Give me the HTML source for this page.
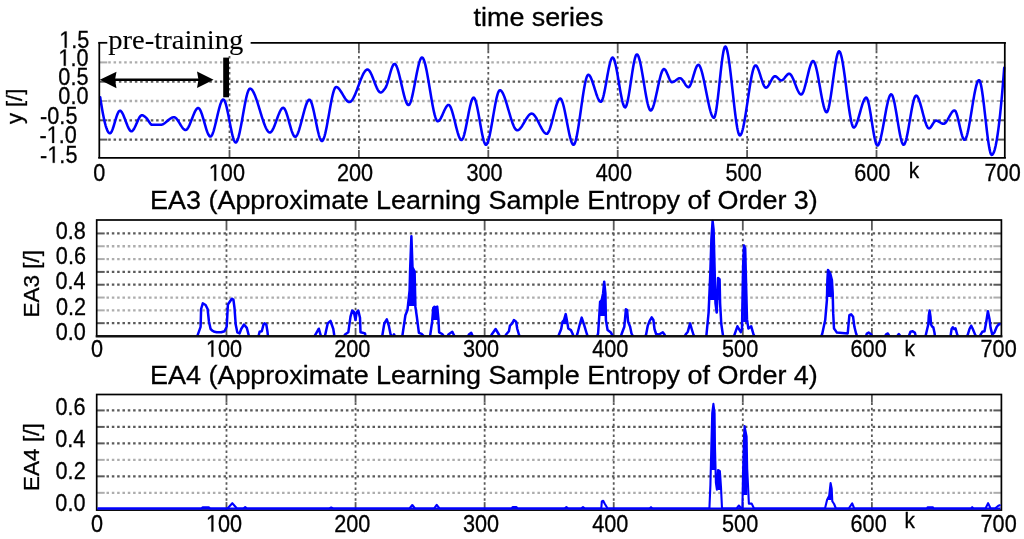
<!DOCTYPE html>
<html><head><meta charset="utf-8"><title>EA plots</title>
<style>html,body{margin:0;padding:0;background:#fff;}body{width:1024px;height:539px;overflow:hidden;}svg{display:block;filter:blur(0.45px);}
text{fill:#000;stroke:#000;stroke-width:0.3px;}</style></head><body>
<svg width="1024" height="539" viewBox="0 0 1024 539">
<rect width="1024" height="539" fill="#fff"/>
<line x1="107.3" y1="62.4" x2="996.8" y2="62.4" stroke="#adadad" stroke-width="2.3" stroke-dasharray="2.5 2.82" stroke-dashoffset="4.37"/>
<line x1="99.3" y1="62.4" x2="107.3" y2="62.4" stroke="#adadad" stroke-width="2"/>
<line x1="996.8" y1="62.4" x2="1004.8" y2="62.4" stroke="#adadad" stroke-width="2"/>
<line x1="107.3" y1="81.7" x2="996.8" y2="81.7" stroke="#5a5a5a" stroke-width="2.3" stroke-dasharray="2.5 2.82" stroke-dashoffset="4.37"/>
<line x1="99.3" y1="81.7" x2="107.3" y2="81.7" stroke="#5a5a5a" stroke-width="2"/>
<line x1="996.8" y1="81.7" x2="1004.8" y2="81.7" stroke="#5a5a5a" stroke-width="2"/>
<line x1="107.3" y1="101" x2="996.8" y2="101" stroke="#adadad" stroke-width="2.3" stroke-dasharray="2.5 2.82" stroke-dashoffset="4.37"/>
<line x1="99.3" y1="101" x2="107.3" y2="101" stroke="#adadad" stroke-width="2"/>
<line x1="996.8" y1="101" x2="1004.8" y2="101" stroke="#adadad" stroke-width="2"/>
<line x1="107.3" y1="120.3" x2="996.8" y2="120.3" stroke="#5a5a5a" stroke-width="2.3" stroke-dasharray="2.5 2.82" stroke-dashoffset="4.37"/>
<line x1="99.3" y1="120.3" x2="107.3" y2="120.3" stroke="#5a5a5a" stroke-width="2"/>
<line x1="996.8" y1="120.3" x2="1004.8" y2="120.3" stroke="#5a5a5a" stroke-width="2"/>
<line x1="107.3" y1="139.6" x2="996.8" y2="139.6" stroke="#5a5a5a" stroke-width="2.3" stroke-dasharray="2.5 2.82" stroke-dashoffset="4.37"/>
<line x1="99.3" y1="139.6" x2="107.3" y2="139.6" stroke="#5a5a5a" stroke-width="2"/>
<line x1="996.8" y1="139.6" x2="1004.8" y2="139.6" stroke="#5a5a5a" stroke-width="2"/>
<line x1="229.5" y1="50.8" x2="229.5" y2="149.9" stroke="#5a5a5a" stroke-width="1.8" stroke-dasharray="2.5 2.82" stroke-dashoffset="0"/>
<line x1="229.5" y1="42.8" x2="229.5" y2="50.8" stroke="#5a5a5a" stroke-width="1.8"/>
<line x1="229.5" y1="149.9" x2="229.5" y2="157.9" stroke="#5a5a5a" stroke-width="1.8"/>
<line x1="358.9" y1="50.8" x2="358.9" y2="149.9" stroke="#5a5a5a" stroke-width="1.8" stroke-dasharray="2.5 2.82" stroke-dashoffset="0"/>
<line x1="358.9" y1="42.8" x2="358.9" y2="50.8" stroke="#5a5a5a" stroke-width="1.8"/>
<line x1="358.9" y1="149.9" x2="358.9" y2="157.9" stroke="#5a5a5a" stroke-width="1.8"/>
<line x1="488.3" y1="50.8" x2="488.3" y2="149.9" stroke="#5a5a5a" stroke-width="1.8" stroke-dasharray="2.5 2.82" stroke-dashoffset="0"/>
<line x1="488.3" y1="42.8" x2="488.3" y2="50.8" stroke="#5a5a5a" stroke-width="1.8"/>
<line x1="488.3" y1="149.9" x2="488.3" y2="157.9" stroke="#5a5a5a" stroke-width="1.8"/>
<line x1="617.7" y1="50.8" x2="617.7" y2="149.9" stroke="#5a5a5a" stroke-width="1.8" stroke-dasharray="2.5 2.82" stroke-dashoffset="0"/>
<line x1="617.7" y1="42.8" x2="617.7" y2="50.8" stroke="#5a5a5a" stroke-width="1.8"/>
<line x1="617.7" y1="149.9" x2="617.7" y2="157.9" stroke="#5a5a5a" stroke-width="1.8"/>
<line x1="747.1" y1="50.8" x2="747.1" y2="149.9" stroke="#5a5a5a" stroke-width="1.8" stroke-dasharray="2.5 2.82" stroke-dashoffset="0"/>
<line x1="747.1" y1="42.8" x2="747.1" y2="50.8" stroke="#5a5a5a" stroke-width="1.8"/>
<line x1="747.1" y1="149.9" x2="747.1" y2="157.9" stroke="#5a5a5a" stroke-width="1.8"/>
<line x1="876.5" y1="50.8" x2="876.5" y2="149.9" stroke="#5a5a5a" stroke-width="1.8" stroke-dasharray="2.5 2.82" stroke-dashoffset="0"/>
<line x1="876.5" y1="42.8" x2="876.5" y2="50.8" stroke="#5a5a5a" stroke-width="1.8"/>
<line x1="876.5" y1="149.9" x2="876.5" y2="157.9" stroke="#5a5a5a" stroke-width="1.8"/>
<path d="M100.2 97.3 L100.7 100.57 L101.2 103.72 L101.7 106.75 L102.2 109.64 L102.7 112.4 L103.2 115.02 L103.7 117.49 L104.2 119.8 L104.7 121.96 L105.2 123.94 L105.7 125.76 L106.2 127.39 L106.7 128.84 L107.2 130.09 L107.7 131.15 L108.2 132 L108.7 132.65 L109.2 133.08 L109.7 133.28 L110.2 133.24 L110.7 132.89 L111.2 132.25 L111.7 131.37 L112.2 130.26 L112.7 128.98 L113.2 127.54 L113.7 125.99 L114.2 124.36 L114.7 122.68 L115.2 120.98 L115.7 119.31 L116.2 117.69 L116.7 116.16 L117.2 114.75 L117.7 113.5 L118.2 112.44 L118.7 111.6 L119.2 111.02 L119.7 110.73 L120.2 110.74 L120.7 110.99 L121.2 111.43 L121.7 112.06 L122.2 112.84 L122.7 113.77 L123.2 114.82 L123.7 115.96 L124.2 117.19 L124.7 118.47 L125.2 119.79 L125.7 121.13 L126.2 122.47 L126.7 123.79 L127.2 125.06 L127.7 126.27 L128.2 127.4 L128.7 128.43 L129.2 129.33 L129.7 130.08 L130.2 130.67 L130.7 131.08 L131.2 131.28 L131.7 131.26 L132.2 131.03 L132.7 130.62 L133.2 130.04 L133.7 129.32 L134.2 128.48 L134.7 127.53 L135.2 126.5 L135.7 125.41 L136.2 124.28 L136.7 123.14 L137.2 121.99 L137.7 120.87 L138.2 119.79 L138.7 118.77 L139.2 117.85 L139.7 117.02 L140.2 116.33 L140.7 115.78 L141.2 115.41 L141.7 115.22 L142.2 115.22 L142.7 115.34 L143.2 115.55 L143.7 115.84 L144.2 116.18 L144.7 116.57 L145.2 116.97 L145.7 117.38 L146.2 117.78 L146.7 118.28 L147.2 118.92 L147.7 119.65 L148.2 120.44 L148.7 121.26 L149.2 122.07 L149.7 122.83 L150.2 123.52 L150.7 124.09 L151.2 124.52 L151.7 124.76 L152.2 124.8 L152.7 124.8 L153.2 124.8 L153.7 124.8 L154.2 124.8 L154.7 124.8 L155.2 124.8 L155.7 124.8 L156.2 124.8 L156.7 124.8 L157.2 124.8 L157.7 124.8 L158.2 124.8 L158.7 124.8 L159.2 124.8 L159.7 124.8 L160.2 124.8 L160.7 124.8 L161.2 124.76 L161.7 124.65 L162.2 124.5 L162.7 124.3 L163.2 124.05 L163.7 123.77 L164.2 123.45 L164.7 123.1 L165.2 122.73 L165.7 122.34 L166.2 121.93 L166.7 121.51 L167.2 121.09 L167.7 120.66 L168.2 120.24 L168.7 119.83 L169.2 119.43 L169.7 119.05 L170.2 118.69 L170.7 118.36 L171.2 118.06 L171.7 117.79 L172.2 117.57 L172.7 117.4 L173.2 117.28 L173.7 117.21 L174.2 117.21 L174.7 117.33 L175.2 117.58 L175.7 117.94 L176.2 118.41 L176.7 118.96 L177.2 119.58 L177.7 120.28 L178.2 121.02 L178.7 121.8 L179.2 122.61 L179.7 123.43 L180.2 124.26 L180.7 125.08 L181.2 125.87 L181.7 126.63 L182.2 127.35 L182.7 128 L183.2 128.58 L183.7 129.08 L184.2 129.49 L184.7 129.78 L185.2 129.96 L185.7 130 L186.2 129.86 L186.7 129.53 L187.2 129.03 L187.7 128.37 L188.2 127.58 L188.7 126.66 L189.2 125.64 L189.7 124.53 L190.2 123.34 L190.7 122.1 L191.2 120.83 L191.7 119.52 L192.2 118.21 L192.7 116.92 L193.2 115.64 L193.7 114.41 L194.2 113.24 L194.7 112.15 L195.2 111.15 L195.7 110.25 L196.2 109.49 L196.7 108.86 L197.2 108.39 L197.7 108.1 L198.2 108 L198.7 108.14 L199.2 108.54 L199.7 109.19 L200.2 110.05 L200.7 111.11 L201.2 112.34 L201.7 113.71 L202.2 115.21 L202.7 116.8 L203.2 118.47 L203.7 120.2 L204.2 121.95 L204.7 123.7 L205.2 125.44 L205.7 127.14 L206.2 128.77 L206.7 130.3 L207.2 131.73 L207.7 133.02 L208.2 134.15 L208.7 135.09 L209.2 135.82 L209.7 136.33 L210.2 136.58 L210.7 136.54 L211.2 136.19 L211.7 135.55 L212.2 134.63 L212.7 133.48 L213.2 132.12 L213.7 130.56 L214.2 128.84 L214.7 126.98 L215.2 125.01 L215.7 122.96 L216.2 120.84 L216.7 118.7 L217.2 116.54 L217.7 114.4 L218.2 112.31 L218.7 110.29 L219.2 108.36 L219.7 106.56 L220.2 104.9 L220.7 103.41 L221.2 102.13 L221.7 101.07 L222.2 100.26 L222.7 99.73 L223.2 99.51 L223.7 99.63 L224.2 100.15 L224.7 101.02 L225.2 102.22 L225.7 103.71 L226.2 105.46 L226.7 107.43 L227.2 109.59 L227.7 111.9 L228.2 114.34 L228.7 116.86 L229.2 119.44 L229.7 122.04 L230.2 124.63 L230.7 127.16 L231.2 129.62 L231.7 131.96 L232.2 134.16 L232.7 136.17 L233.2 137.96 L233.7 139.5 L234.2 140.76 L234.7 141.71 L235.2 142.3 L235.7 142.5 L236.2 142.31 L236.7 141.75 L237.2 140.85 L237.7 139.63 L238.2 138.13 L238.7 136.38 L239.2 134.39 L239.7 132.21 L240.2 129.85 L240.7 127.34 L241.2 124.71 L241.7 122 L242.2 119.21 L242.7 116.4 L243.2 113.57 L243.7 110.77 L244.2 108.01 L244.7 105.32 L245.2 102.74 L245.7 100.29 L246.2 98 L246.7 95.89 L247.2 93.99 L247.7 92.33 L248.2 90.95 L248.7 89.86 L249.2 89.09 L249.7 88.67 L250.2 88.61 L250.7 88.76 L251.2 89.06 L251.7 89.51 L252.2 90.09 L252.7 90.81 L253.2 91.64 L253.7 92.59 L254.2 93.64 L254.7 94.79 L255.2 96.03 L255.7 97.34 L256.2 98.73 L256.7 100.18 L257.2 101.68 L257.7 103.23 L258.2 104.82 L258.7 106.44 L259.2 108.07 L259.7 109.72 L260.2 111.38 L260.7 113.03 L261.2 114.66 L261.7 116.28 L262.2 117.87 L262.7 119.42 L263.2 120.92 L263.7 122.37 L264.2 123.76 L264.7 125.07 L265.2 126.31 L265.7 127.46 L266.2 128.51 L266.7 129.46 L267.2 130.29 L267.7 131.01 L268.2 131.59 L268.7 132.04 L269.2 132.34 L269.7 132.49 L270.2 132.46 L270.7 132.24 L271.2 131.84 L271.7 131.27 L272.2 130.54 L272.7 129.68 L273.2 128.69 L273.7 127.6 L274.2 126.42 L274.7 125.17 L275.2 123.86 L275.7 122.5 L276.2 121.12 L276.7 119.73 L277.2 118.35 L277.7 116.98 L278.2 115.65 L278.7 114.37 L279.2 113.16 L279.7 112.03 L280.2 111 L280.7 110.09 L281.2 109.31 L281.7 108.67 L282.2 108.2 L282.7 107.9 L283.2 107.8 L283.7 107.95 L284.2 108.37 L284.7 109.05 L285.2 109.95 L285.7 111.05 L286.2 112.33 L286.7 113.76 L287.2 115.32 L287.7 116.98 L288.2 118.71 L288.7 120.49 L289.2 122.3 L289.7 124.11 L290.2 125.89 L290.7 127.62 L291.2 129.28 L291.7 130.84 L292.2 132.27 L292.7 133.55 L293.2 134.65 L293.7 135.55 L294.2 136.23 L294.7 136.65 L295.2 136.8 L295.7 136.67 L296.2 136.27 L296.7 135.65 L297.2 134.8 L297.7 133.76 L298.2 132.53 L298.7 131.15 L299.2 129.63 L299.7 127.98 L300.2 126.24 L300.7 124.41 L301.2 122.53 L301.7 120.6 L302.2 118.64 L302.7 116.68 L303.2 114.74 L303.7 112.83 L304.2 110.98 L304.7 109.2 L305.2 107.52 L305.7 105.94 L306.2 104.5 L306.7 103.21 L307.2 102.1 L307.7 101.17 L308.2 100.45 L308.7 99.96 L309.2 99.72 L309.7 99.77 L310.2 100.19 L310.7 100.95 L311.2 102.02 L311.7 103.38 L312.2 104.99 L312.7 106.82 L313.2 108.83 L313.7 111 L314.2 113.29 L314.7 115.68 L315.2 118.12 L315.7 120.6 L316.2 123.07 L316.7 125.5 L317.2 127.87 L317.7 130.15 L318.2 132.29 L318.7 134.27 L319.2 136.05 L319.7 137.61 L320.2 138.92 L320.7 139.93 L321.2 140.63 L321.7 140.97 L322.2 140.93 L322.7 140.51 L323.2 139.73 L323.7 138.62 L324.2 137.21 L324.7 135.53 L325.2 133.61 L325.7 131.47 L326.2 129.14 L326.7 126.66 L327.2 124.05 L327.7 121.33 L328.2 118.54 L328.7 115.71 L329.2 112.86 L329.7 110.02 L330.2 107.22 L330.7 104.49 L331.2 101.85 L331.7 99.34 L332.2 96.98 L332.7 94.8 L333.2 92.84 L333.7 91.11 L334.2 89.64 L334.7 88.47 L335.2 87.62 L335.7 87.13 L336.2 87 L336.7 87.09 L337.2 87.29 L337.7 87.6 L338.2 88.01 L338.7 88.51 L339.2 89.08 L339.7 89.72 L340.2 90.42 L340.7 91.17 L341.2 91.96 L341.7 92.78 L342.2 93.62 L342.7 94.46 L343.2 95.32 L343.7 96.16 L344.2 96.98 L344.7 97.78 L345.2 98.53 L345.7 99.24 L346.2 99.9 L346.7 100.49 L347.2 101 L347.7 101.42 L348.2 101.75 L348.7 101.98 L349.2 102.09 L349.7 102.07 L350.2 101.91 L350.7 101.62 L351.2 101.2 L351.7 100.65 L352.2 100 L352.7 99.24 L353.2 98.39 L353.7 97.45 L354.2 96.44 L354.7 95.35 L355.2 94.2 L355.7 93 L356.2 91.75 L356.7 90.47 L357.2 89.16 L357.7 87.82 L358.2 86.48 L358.7 85.12 L359.2 83.78 L359.7 82.44 L360.2 81.13 L360.7 79.85 L361.2 78.6 L361.7 77.4 L362.2 76.25 L362.7 75.16 L363.2 74.15 L363.7 73.21 L364.2 72.36 L364.7 71.6 L365.2 70.95 L365.7 70.4 L366.2 69.98 L366.7 69.69 L367.2 69.53 L367.7 69.52 L368.2 69.69 L368.7 70.04 L369.2 70.56 L369.7 71.23 L370.2 72.03 L370.7 72.95 L371.2 73.97 L371.7 75.08 L372.2 76.26 L372.7 77.5 L373.2 78.77 L373.7 80.08 L374.2 81.39 L374.7 82.71 L375.2 84 L375.7 85.25 L376.2 86.46 L376.7 87.6 L377.2 88.66 L377.7 89.62 L378.2 90.47 L378.7 91.19 L379.2 91.77 L379.7 92.19 L380.2 92.44 L380.7 92.5 L381.2 92.39 L381.7 92.14 L382.2 91.78 L382.7 91.32 L383.2 90.79 L383.7 90.19 L384.2 89.56 L384.7 88.92 L385.2 88.27 L385.7 87.44 L386.2 86.38 L386.7 85.1 L387.2 83.66 L387.7 82.08 L388.2 80.38 L388.7 78.62 L389.2 76.82 L389.7 75.01 L390.2 73.23 L390.7 71.5 L391.2 69.88 L391.7 68.38 L392.2 67.04 L392.7 65.89 L393.2 64.98 L393.7 64.32 L394.2 63.96 L394.7 63.92 L395.2 64.2 L395.7 64.76 L396.2 65.57 L396.7 66.63 L397.2 67.91 L397.7 69.37 L398.2 71.01 L398.7 72.8 L399.2 74.71 L399.7 76.73 L400.2 78.83 L400.7 80.98 L401.2 83.18 L401.7 85.38 L402.2 87.58 L402.7 89.75 L403.2 91.86 L403.7 93.89 L404.2 95.83 L404.7 97.64 L405.2 99.31 L405.7 100.82 L406.2 102.13 L406.7 103.23 L407.2 104.1 L407.7 104.71 L408.2 105.04 L408.7 105.07 L409.2 104.73 L409.7 104.04 L410.2 103.03 L410.7 101.72 L411.2 100.15 L411.7 98.34 L412.2 96.33 L412.7 94.15 L413.2 91.81 L413.7 89.35 L414.2 86.81 L414.7 84.2 L415.2 81.56 L415.7 78.92 L416.2 76.31 L416.7 73.75 L417.2 71.27 L417.7 68.91 L418.2 66.69 L418.7 64.64 L419.2 62.79 L419.7 61.17 L420.2 59.81 L420.7 58.74 L421.2 57.98 L421.7 57.57 L422.2 57.53 L422.7 57.86 L423.2 58.55 L423.7 59.56 L424.2 60.87 L424.7 62.45 L425.2 64.29 L425.7 66.36 L426.2 68.63 L426.7 71.08 L427.2 73.68 L427.7 76.42 L428.2 79.26 L428.7 82.19 L429.2 85.17 L429.7 88.19 L430.2 91.22 L430.7 94.23 L431.2 97.2 L431.7 100.11 L432.2 102.94 L432.7 105.65 L433.2 108.23 L433.7 110.64 L434.2 112.87 L434.7 114.9 L435.2 116.69 L435.7 118.22 L436.2 119.47 L436.7 120.42 L437.2 121.03 L437.7 121.29 L438.2 121.23 L438.7 120.98 L439.2 120.54 L439.7 119.96 L440.2 119.23 L440.7 118.39 L441.2 117.45 L441.7 116.43 L442.2 115.35 L442.7 114.24 L443.2 113.1 L443.7 111.96 L444.2 110.85 L444.7 109.77 L445.2 108.75 L445.7 107.81 L446.2 106.97 L446.7 106.24 L447.2 105.66 L447.7 105.22 L448.2 104.97 L448.7 104.91 L449.2 105.12 L449.7 105.62 L450.2 106.39 L450.7 107.39 L451.2 108.6 L451.7 110.01 L452.2 111.58 L452.7 113.28 L453.2 115.11 L453.7 117.02 L454.2 119 L454.7 121.02 L455.2 123.06 L455.7 125.09 L456.2 127.09 L456.7 129.04 L457.2 130.9 L457.7 132.66 L458.2 134.28 L458.7 135.76 L459.2 137.05 L459.7 138.14 L460.2 139 L460.7 139.61 L461.2 139.94 L461.7 139.97 L462.2 139.59 L462.7 138.83 L463.2 137.72 L463.7 136.3 L464.2 134.61 L464.7 132.67 L465.2 130.53 L465.7 128.22 L466.2 125.78 L466.7 123.24 L467.2 120.64 L467.7 118.01 L468.2 115.4 L468.7 112.83 L469.2 110.34 L469.7 107.97 L470.2 105.76 L470.7 103.74 L471.2 101.94 L471.7 100.41 L472.2 99.17 L472.7 98.27 L473.2 97.74 L473.7 97.61 L474.2 97.92 L474.7 98.65 L475.2 99.75 L475.7 101.2 L476.2 102.96 L476.7 104.97 L477.2 107.23 L477.7 109.67 L478.2 112.27 L478.7 114.99 L479.2 117.78 L479.7 120.63 L480.2 123.48 L480.7 126.3 L481.2 129.06 L481.7 131.71 L482.2 134.22 L482.7 136.55 L483.2 138.67 L483.7 140.53 L484.2 142.1 L484.7 143.35 L485.2 144.24 L485.7 144.72 L486.2 144.77 L486.7 144.4 L487.2 143.65 L487.7 142.55 L488.2 141.13 L488.7 139.42 L489.2 137.45 L489.7 135.25 L490.2 132.86 L490.7 130.29 L491.2 127.59 L491.7 124.79 L492.2 121.9 L492.7 118.97 L493.2 116.03 L493.7 113.1 L494.2 110.21 L494.7 107.41 L495.2 104.71 L495.7 102.14 L496.2 99.75 L496.7 97.55 L497.2 95.58 L497.7 93.87 L498.2 92.45 L498.7 91.35 L499.2 90.6 L499.7 90.23 L500.2 90.24 L500.7 90.45 L501.2 90.85 L501.7 91.41 L502.2 92.14 L502.7 93.01 L503.2 94.02 L503.7 95.15 L504.2 96.4 L504.7 97.75 L505.2 99.18 L505.7 100.7 L506.2 102.28 L506.7 103.92 L507.2 105.59 L507.7 107.3 L508.2 109.03 L508.7 110.77 L509.2 112.51 L509.7 114.22 L510.2 115.92 L510.7 117.57 L511.2 119.18 L511.7 120.72 L512.2 122.19 L512.7 123.57 L513.2 124.86 L513.7 126.04 L514.2 127.1 L514.7 128.03 L515.2 128.82 L515.7 129.45 L516.2 129.91 L516.7 130.2 L517.2 130.3 L517.7 130.24 L518.2 130.07 L518.7 129.8 L519.2 129.43 L519.7 128.98 L520.2 128.45 L520.7 127.85 L521.2 127.19 L521.7 126.47 L522.2 125.71 L522.7 124.91 L523.2 124.09 L523.7 123.24 L524.2 122.38 L524.7 121.52 L525.2 120.66 L525.7 119.81 L526.2 118.99 L526.7 118.19 L527.2 117.43 L527.7 116.71 L528.2 116.05 L528.7 115.45 L529.2 114.92 L529.7 114.47 L530.2 114.1 L530.7 113.83 L531.2 113.66 L531.7 113.6 L532.2 113.67 L532.7 113.86 L533.2 114.17 L533.7 114.58 L534.2 115.1 L534.7 115.7 L535.2 116.39 L535.7 117.14 L536.2 117.96 L536.7 118.84 L537.2 119.76 L537.7 120.71 L538.2 121.69 L538.7 122.69 L539.2 123.7 L539.7 124.71 L540.2 125.71 L540.7 126.69 L541.2 127.64 L541.7 128.56 L542.2 129.44 L542.7 130.26 L543.2 131.01 L543.7 131.7 L544.2 132.3 L544.7 132.82 L545.2 133.23 L545.7 133.54 L546.2 133.73 L546.7 133.8 L547.2 133.66 L547.7 133.25 L548.2 132.59 L548.7 131.71 L549.2 130.62 L549.7 129.35 L550.2 127.91 L550.7 126.34 L551.2 124.65 L551.7 122.86 L552.2 121 L552.7 119.08 L553.2 117.13 L553.7 115.17 L554.2 113.22 L554.7 111.3 L555.2 109.44 L555.7 107.65 L556.2 105.96 L556.7 104.39 L557.2 102.95 L557.7 101.68 L558.2 100.59 L558.7 99.71 L559.2 99.05 L559.7 98.64 L560.2 98.5 L560.7 98.69 L561.2 99.25 L561.7 100.13 L562.2 101.33 L562.7 102.79 L563.2 104.5 L563.7 106.43 L564.2 108.54 L564.7 110.81 L565.2 113.21 L565.7 115.7 L566.2 118.27 L566.7 120.87 L567.2 123.48 L567.7 126.06 L568.2 128.6 L568.7 131.06 L569.2 133.41 L569.7 135.62 L570.2 137.66 L570.7 139.51 L571.2 141.13 L571.7 142.49 L572.2 143.56 L572.7 144.32 L573.2 144.73 L573.7 144.76 L574.2 144.35 L574.7 143.49 L575.2 142.24 L575.7 140.62 L576.2 138.66 L576.7 136.4 L577.2 133.86 L577.7 131.09 L578.2 128.11 L578.7 124.95 L579.2 121.65 L579.7 118.24 L580.2 114.75 L580.7 111.22 L581.2 107.67 L581.7 104.15 L582.2 100.67 L582.7 97.28 L583.2 94.01 L583.7 90.88 L584.2 87.94 L584.7 85.21 L585.2 82.73 L585.7 80.52 L586.2 78.63 L586.7 77.08 L587.2 75.9 L587.7 75.14 L588.2 74.81 L588.7 74.88 L589.2 75.2 L589.7 75.74 L590.2 76.48 L590.7 77.4 L591.2 78.49 L591.7 79.71 L592.2 81.04 L592.7 82.48 L593.2 83.99 L593.7 85.56 L594.2 87.17 L594.7 88.79 L595.2 90.4 L595.7 91.98 L596.2 93.52 L596.7 94.99 L597.2 96.37 L597.7 97.64 L598.2 98.78 L598.7 99.77 L599.2 100.59 L599.7 101.21 L600.2 101.62 L600.7 101.79 L601.2 101.65 L601.7 101.07 L602.2 100.08 L602.7 98.72 L603.2 97.05 L603.7 95.09 L604.2 92.89 L604.7 90.48 L605.2 87.92 L605.7 85.23 L606.2 82.46 L606.7 79.65 L607.2 76.84 L607.7 74.07 L608.2 71.38 L608.7 68.82 L609.2 66.41 L609.7 64.21 L610.2 62.25 L610.7 60.58 L611.2 59.22 L611.7 58.23 L612.2 57.65 L612.7 57.51 L613.2 57.83 L613.7 58.59 L614.2 59.74 L614.7 61.25 L615.2 63.08 L615.7 65.18 L616.2 67.53 L616.7 70.08 L617.2 72.8 L617.7 75.64 L618.2 78.57 L618.7 81.55 L619.2 84.54 L619.7 87.51 L620.2 90.41 L620.7 93.2 L621.2 95.86 L621.7 98.33 L622.2 100.59 L622.7 102.59 L623.2 104.29 L623.7 105.66 L624.2 106.66 L624.7 107.25 L625.2 107.39 L625.7 107 L626.2 106.1 L626.7 104.74 L627.2 102.96 L627.7 100.81 L628.2 98.35 L628.7 95.61 L629.2 92.65 L629.7 89.52 L630.2 86.26 L630.7 82.92 L631.2 79.55 L631.7 76.21 L632.2 72.93 L632.7 69.76 L633.2 66.76 L633.7 63.98 L634.2 61.45 L634.7 59.24 L635.2 57.38 L635.7 55.93 L636.2 54.94 L636.7 54.45 L637.2 54.48 L637.7 54.94 L638.2 55.8 L638.7 57.01 L639.2 58.56 L639.7 60.39 L640.2 62.49 L640.7 64.82 L641.2 67.35 L641.7 70.04 L642.2 72.87 L642.7 75.8 L643.2 78.8 L643.7 81.84 L644.2 84.89 L644.7 87.91 L645.2 90.87 L645.7 93.74 L646.2 96.49 L646.7 99.09 L647.2 101.5 L647.7 103.7 L648.2 105.64 L648.7 107.31 L649.2 108.66 L649.7 109.66 L650.2 110.28 L650.7 110.5 L651.2 110.33 L651.7 109.83 L652.2 109.04 L652.7 107.97 L653.2 106.65 L653.7 105.12 L654.2 103.39 L654.7 101.5 L655.2 99.46 L655.7 97.31 L656.2 95.08 L656.7 92.78 L657.2 90.45 L657.7 88.11 L658.2 85.79 L658.7 83.52 L659.2 81.31 L659.7 79.21 L660.2 77.23 L660.7 75.4 L661.2 73.74 L661.7 72.29 L662.2 71.07 L662.7 70.11 L663.2 69.43 L663.7 69.06 L664.2 69.02 L664.7 69.29 L665.2 69.8 L665.7 70.53 L666.2 71.45 L666.7 72.5 L667.2 73.65 L667.7 74.86 L668.2 76.09 L668.7 77.31 L669.2 78.48 L669.7 79.55 L670.2 80.5 L670.7 81.27 L671.2 81.83 L671.7 82.15 L672.2 82.19 L672.7 82.11 L673.2 81.96 L673.7 81.73 L674.2 81.46 L674.7 81.14 L675.2 80.79 L675.7 80.42 L676.2 80.05 L676.7 79.68 L677.2 79.33 L677.7 79 L678.2 78.72 L678.7 78.48 L679.2 78.31 L679.7 78.22 L680.2 78.21 L680.7 78.37 L681.2 78.69 L681.7 79.14 L682.2 79.7 L682.7 80.35 L683.2 81.07 L683.7 81.83 L684.2 82.62 L684.7 83.41 L685.2 84.18 L685.7 84.91 L686.2 85.58 L686.7 86.16 L687.2 86.63 L687.7 86.98 L688.2 87.17 L688.7 87.17 L689.2 86.87 L689.7 86.27 L690.2 85.41 L690.7 84.32 L691.2 83.04 L691.7 81.59 L692.2 80.03 L692.7 78.38 L693.2 76.69 L693.7 74.97 L694.2 73.28 L694.7 71.65 L695.2 70.11 L695.7 68.69 L696.2 67.44 L696.7 66.4 L697.2 65.58 L697.7 65.04 L698.2 64.81 L698.7 64.9 L699.2 65.31 L699.7 66 L700.2 66.97 L700.7 68.18 L701.2 69.61 L701.7 71.26 L702.2 73.08 L702.7 75.07 L703.2 77.2 L703.7 79.46 L704.2 81.81 L704.7 84.24 L705.2 86.73 L705.7 89.26 L706.2 91.81 L706.7 94.35 L707.2 96.87 L707.7 99.34 L708.2 101.74 L708.7 104.06 L709.2 106.27 L709.7 108.34 L710.2 110.27 L710.7 112.02 L711.2 113.59 L711.7 114.94 L712.2 116.05 L712.7 116.91 L713.2 117.49 L713.7 117.77 L714.2 117.65 L714.7 116.8 L715.2 115.23 L715.7 113.03 L716.2 110.26 L716.7 107.01 L717.2 103.34 L717.7 99.31 L718.2 95.02 L718.7 90.52 L719.2 85.9 L719.7 81.21 L720.2 76.54 L720.7 71.96 L721.2 67.53 L721.7 63.34 L722.2 59.45 L722.7 55.93 L723.2 52.87 L723.7 50.32 L724.2 48.36 L724.7 47.07 L725.2 46.52 L725.7 46.7 L726.2 47.47 L726.7 48.8 L727.2 50.63 L727.7 52.92 L728.2 55.64 L728.7 58.73 L729.2 62.16 L729.7 65.88 L730.2 69.85 L730.7 74.02 L731.2 78.36 L731.7 82.81 L732.2 87.35 L732.7 91.91 L733.2 96.47 L733.7 100.98 L734.2 105.4 L734.7 109.67 L735.2 113.77 L735.7 117.64 L736.2 121.25 L736.7 124.55 L737.2 127.49 L737.7 130.05 L738.2 132.16 L738.7 133.8 L739.2 134.91 L739.7 135.45 L740.2 135.42 L740.7 134.97 L741.2 134.12 L741.7 132.92 L742.2 131.38 L742.7 129.54 L743.2 127.42 L743.7 125.05 L744.2 122.46 L744.7 119.67 L745.2 116.72 L745.7 113.64 L746.2 110.44 L746.7 107.15 L747.2 103.82 L747.7 100.45 L748.2 97.08 L748.7 93.75 L749.2 90.46 L749.7 87.26 L750.2 84.18 L750.7 81.23 L751.2 78.44 L751.7 75.85 L752.2 73.48 L752.7 71.36 L753.2 69.52 L753.7 67.98 L754.2 66.78 L754.7 65.93 L755.2 65.48 L755.7 65.42 L756.2 65.69 L756.7 66.22 L757.2 66.99 L757.7 67.97 L758.2 69.13 L758.7 70.43 L759.2 71.86 L759.7 73.37 L760.2 74.95 L760.7 76.55 L761.2 78.15 L761.7 79.73 L762.2 81.24 L762.7 82.67 L763.2 83.97 L763.7 85.13 L764.2 86.11 L764.7 86.88 L765.2 87.41 L765.7 87.68 L766.2 87.66 L766.7 87.45 L767.2 87.06 L767.7 86.53 L768.2 85.87 L768.7 85.1 L769.2 84.26 L769.7 83.36 L770.2 82.42 L770.7 81.48 L771.2 80.54 L771.7 79.64 L772.2 78.8 L772.7 78.03 L773.2 77.37 L773.7 76.84 L774.2 76.45 L774.7 76.24 L775.2 76.21 L775.7 76.34 L776.2 76.6 L776.7 76.95 L777.2 77.38 L777.7 77.85 L778.2 78.35 L778.7 78.84 L779.2 79.31 L779.7 79.72 L780.2 80.06 L780.7 80.29 L781.2 80.4 L781.7 80.35 L782.2 80.16 L782.7 79.84 L783.2 79.42 L783.7 78.92 L784.2 78.35 L784.7 77.75 L785.2 77.11 L785.7 76.48 L786.2 75.86 L786.7 75.29 L787.2 74.77 L787.7 74.33 L788.2 73.99 L788.7 73.78 L789.2 73.7 L789.7 73.81 L790.2 74.11 L790.7 74.59 L791.2 75.24 L791.7 76.03 L792.2 76.95 L792.7 77.98 L793.2 79.09 L793.7 80.28 L794.2 81.52 L794.7 82.8 L795.2 84.1 L795.7 85.4 L796.2 86.68 L796.7 87.92 L797.2 89.11 L797.7 90.22 L798.2 91.25 L798.7 92.17 L799.2 92.96 L799.7 93.61 L800.2 94.09 L800.7 94.39 L801.2 94.5 L801.7 94.33 L802.2 93.83 L802.7 93.04 L803.2 91.98 L803.7 90.69 L804.2 89.19 L804.7 87.51 L805.2 85.69 L805.7 83.75 L806.2 81.73 L806.7 79.65 L807.2 77.54 L807.7 75.43 L808.2 73.36 L808.7 71.35 L809.2 69.44 L809.7 67.64 L810.2 66 L810.7 64.54 L811.2 63.29 L811.7 62.28 L812.2 61.55 L812.7 61.11 L813.2 61.01 L813.7 61.29 L814.2 61.96 L814.7 62.99 L815.2 64.33 L815.7 65.97 L816.2 67.86 L816.7 69.98 L817.2 72.3 L817.7 74.78 L818.2 77.4 L818.7 80.12 L819.2 82.91 L819.7 85.75 L820.2 88.59 L820.7 91.41 L821.2 94.18 L821.7 96.86 L822.2 99.43 L822.7 101.85 L823.2 104.09 L823.7 106.13 L824.2 107.92 L824.7 109.44 L825.2 110.66 L825.7 111.55 L826.2 112.07 L826.7 112.19 L827.2 111.79 L827.7 110.87 L828.2 109.46 L828.7 107.62 L829.2 105.39 L829.7 102.82 L830.2 99.96 L830.7 96.84 L831.2 93.53 L831.7 90.06 L832.2 86.48 L832.7 82.85 L833.2 79.19 L833.7 75.58 L834.2 72.04 L834.7 68.63 L835.2 65.39 L835.7 62.37 L836.2 59.61 L836.7 57.17 L837.2 55.09 L837.7 53.42 L838.2 52.2 L838.7 51.48 L839.2 51.31 L839.7 51.67 L840.2 52.52 L840.7 53.81 L841.2 55.52 L841.7 57.61 L842.2 60.04 L842.7 62.77 L843.2 65.78 L843.7 69.02 L844.2 72.45 L844.7 76.05 L845.2 79.77 L845.7 83.59 L846.2 87.46 L846.7 91.34 L847.2 95.21 L847.7 99.03 L848.2 102.75 L848.7 106.35 L849.2 109.78 L849.7 113.02 L850.2 116.03 L850.7 118.76 L851.2 121.19 L851.7 123.28 L852.2 124.99 L852.7 126.28 L853.2 127.13 L853.7 127.49 L854.2 127.41 L854.7 127.05 L855.2 126.44 L855.7 125.61 L856.2 124.57 L856.7 123.36 L857.2 121.99 L857.7 120.49 L858.2 118.88 L858.7 117.18 L859.2 115.43 L859.7 113.63 L860.2 111.83 L860.7 110.03 L861.2 108.26 L861.7 106.56 L862.2 104.93 L862.7 103.4 L863.2 102 L863.7 100.76 L864.2 99.68 L864.7 98.81 L865.2 98.15 L865.7 97.74 L866.2 97.6 L866.7 97.88 L867.2 98.68 L867.7 99.95 L868.2 101.64 L868.7 103.69 L869.2 106.07 L869.7 108.71 L870.2 111.57 L870.7 114.58 L871.2 117.72 L871.7 120.91 L872.2 124.11 L872.7 127.27 L873.2 130.34 L873.7 133.27 L874.2 136 L874.7 138.49 L875.2 140.68 L875.7 142.52 L876.2 143.97 L876.7 144.96 L877.2 145.45 L877.7 145.43 L878.2 145 L878.7 144.22 L879.2 143.11 L879.7 141.71 L880.2 140.03 L880.7 138.12 L881.2 135.99 L881.7 133.68 L882.2 131.23 L882.7 128.64 L883.2 125.97 L883.7 123.23 L884.2 120.46 L884.7 117.68 L885.2 114.92 L885.7 112.22 L886.2 109.59 L886.7 107.08 L887.2 104.71 L887.7 102.51 L888.2 100.51 L888.7 98.73 L889.2 97.21 L889.7 95.98 L890.2 95.07 L890.7 94.5 L891.2 94.3 L891.7 94.54 L892.2 95.23 L892.7 96.34 L893.2 97.82 L893.7 99.63 L894.2 101.74 L894.7 104.1 L895.2 106.67 L895.7 109.43 L896.2 112.31 L896.7 115.29 L897.2 118.33 L897.7 121.38 L898.2 124.41 L898.7 127.38 L899.2 130.24 L899.7 132.96 L900.2 135.49 L900.7 137.81 L901.2 139.86 L901.7 141.61 L902.2 143.01 L902.7 144.04 L903.2 144.65 L903.7 144.79 L904.2 144.47 L904.7 143.72 L905.2 142.59 L905.7 141.1 L906.2 139.3 L906.7 137.22 L907.2 134.91 L907.7 132.39 L908.2 129.72 L908.7 126.91 L909.2 124.02 L909.7 121.09 L910.2 118.14 L910.7 115.21 L911.2 112.35 L911.7 109.6 L912.2 106.98 L912.7 104.54 L913.2 102.32 L913.7 100.34 L914.2 98.66 L914.7 97.31 L915.2 96.33 L915.7 95.75 L916.2 95.61 L916.7 95.81 L917.2 96.27 L917.7 96.99 L918.2 97.92 L918.7 99.06 L919.2 100.37 L919.7 101.84 L920.2 103.43 L920.7 105.14 L921.2 106.93 L921.7 108.78 L922.2 110.67 L922.7 112.57 L923.2 114.47 L923.7 116.34 L924.2 118.16 L924.7 119.9 L925.2 121.54 L925.7 123.06 L926.2 124.43 L926.7 125.64 L927.2 126.66 L927.7 127.47 L928.2 128.04 L928.7 128.35 L929.2 128.38 L929.7 128.18 L930.2 127.79 L930.7 127.24 L931.2 126.57 L931.7 125.81 L932.2 125 L932.7 124.17 L933.2 123.35 L933.7 122.57 L934.2 121.88 L934.7 121.31 L935.2 120.88 L935.7 120.64 L936.2 120.61 L936.7 120.68 L937.2 120.81 L937.7 121.01 L938.2 121.25 L938.7 121.52 L939.2 121.82 L939.7 122.14 L940.2 122.45 L940.7 122.76 L941.2 123.04 L941.7 123.3 L942.2 123.51 L942.7 123.68 L943.2 123.77 L943.7 123.8 L944.2 123.68 L944.7 123.42 L945.2 123.02 L945.7 122.5 L946.2 121.88 L946.7 121.16 L947.2 120.38 L947.7 119.54 L948.2 118.65 L948.7 117.74 L949.2 116.82 L949.7 115.91 L950.2 115.01 L950.7 114.15 L951.2 113.34 L951.7 112.6 L952.2 111.94 L952.7 111.38 L953.2 110.93 L953.7 110.61 L954.2 110.43 L954.7 110.43 L955.2 110.81 L955.7 111.57 L956.2 112.66 L956.7 114.04 L957.2 115.67 L957.7 117.5 L958.2 119.5 L958.7 121.6 L959.2 123.78 L959.7 125.98 L960.2 128.17 L960.7 130.29 L961.2 132.31 L961.7 134.18 L962.2 135.85 L962.7 137.29 L963.2 138.44 L963.7 139.27 L964.2 139.72 L964.7 139.77 L965.2 139.4 L965.7 138.64 L966.2 137.53 L966.7 136.09 L967.2 134.36 L967.7 132.36 L968.2 130.12 L968.7 127.68 L969.2 125.05 L969.7 122.27 L970.2 119.38 L970.7 116.39 L971.2 113.34 L971.7 110.26 L972.2 107.17 L972.7 104.12 L973.2 101.11 L973.7 98.2 L974.2 95.4 L974.7 92.74 L975.2 90.25 L975.7 87.97 L976.2 85.92 L976.7 84.13 L977.2 82.63 L977.7 81.45 L978.2 80.63 L978.7 80.18 L979.2 80.16 L979.7 80.76 L980.2 81.98 L980.7 83.76 L981.2 86.06 L981.7 88.8 L982.2 91.95 L982.7 95.45 L983.2 99.23 L983.7 103.25 L984.2 107.45 L984.7 111.78 L985.2 116.18 L985.7 120.59 L986.2 124.96 L986.7 129.25 L987.2 133.38 L987.7 137.31 L988.2 140.99 L988.7 144.35 L989.2 147.35 L989.7 149.92 L990.2 152.02 L990.7 153.58 L991.2 154.56 L991.7 154.9 L992.2 154.75 L992.7 154.3 L993.2 153.55 L993.7 152.52 L994.2 151.19 L994.7 149.57 L995.2 147.67 L995.7 145.48 L996.2 143.02 L996.7 140.28 L997.2 137.26 L997.7 133.97 L998.2 130.42 L998.7 126.6 L999.2 122.52 L999.7 118.17 L1000.2 113.57 L1000.7 108.72 L1001.2 103.61 L1001.7 98.25 L1002.2 92.65 L1002.7 86.81 L1003.2 80.72 L1003.7 74.4 L1004.2 67.84" fill="none" stroke="#0000ff" stroke-width="2.55" stroke-linejoin="round" stroke-linecap="round"/>
<line x1="99.3" y1="42.8" x2="99.3" y2="157.9" stroke="#000" stroke-width="1.75"/>
<line x1="1004.8" y1="42.8" x2="1004.8" y2="157.9" stroke="#000" stroke-width="1.75"/>
<line x1="98.2" y1="157.9" x2="1005.9" y2="157.9" stroke="#000" stroke-width="1.75"/>
<line x1="98.2" y1="42.8" x2="107.5" y2="42.8" stroke="#000" stroke-width="1.75"/>
<line x1="250.6" y1="42.8" x2="1005.9" y2="42.8" stroke="#000" stroke-width="1.75"/>
<line x1="112" y1="79.8" x2="201" y2="79.8" stroke="#000" stroke-width="2.6"/>
<path d="M99.8 79.8 L116.5 71.8 L115 79.8 L116.5 88.2 Z" fill="#000"/>
<path d="M213.6 79.8 L197 71.6 L198.5 79.8 L197 88 Z" fill="#000"/>
<rect x="223.2" y="57.6" width="5.8" height="39.7" fill="#000"/>
<rect x="107.6" y="30" width="142.5" height="26" fill="#fff"/>
<text transform="translate(108.27 48.8) scale(1.0672 1)" font-size="26.8" font-family="Liberation Serif" style="stroke-width:0.1px">pre-training</text>
<text transform="translate(473.6 25.5) scale(1.0531 1)" font-size="25.5" font-family="Liberation Sans">time series</text>
<g transform="translate(59.26 47.8) scale(0.9100 1)"><text font-size="23.8" font-family="Liberation Sans"> .5</text><path transform="translate(0 0) scale(0.01162 -0.01162)" stroke="#000" stroke-width="25.82" d="M515 0V1237L197 1010V1180L530 1409H696V0Z"/></g>
<g transform="translate(58.36 65.8) scale(0.9100 1)"><text font-size="23.8" font-family="Liberation Sans"> .0</text><path transform="translate(0 0) scale(0.01162 -0.01162)" stroke="#000" stroke-width="25.82" d="M515 0V1237L197 1010V1180L530 1409H696V0Z"/></g>
<text transform="translate(58.36 85.4) scale(0.9100 1)" font-size="23.8" font-family="Liberation Sans">0.5</text>
<text transform="translate(58.36 103.5) scale(0.9100 1)" font-size="23.8" font-family="Liberation Sans">0.0</text>
<text transform="translate(40.11 124.1) scale(0.9100 1)" font-size="23.8" font-family="Liberation Sans">-0.5</text>
<g transform="translate(39.51 142.9) scale(0.9100 1)"><text font-size="23.8" font-family="Liberation Sans">- .0</text><path transform="translate(7.93 0) scale(0.01162 -0.01162)" stroke="#000" stroke-width="25.82" d="M515 0V1237L197 1010V1180L530 1409H696V0Z"/></g>
<g transform="translate(40.11 162.8) scale(0.9100 1)"><text font-size="23.8" font-family="Liberation Sans">- .5</text><path transform="translate(7.93 0) scale(0.01162 -0.01162)" stroke="#000" stroke-width="25.82" d="M515 0V1237L197 1010V1180L530 1409H696V0Z"/></g>
<text transform="translate(22.3 124.11) rotate(-90) scale(1.0000 1)" font-size="22" font-family="Liberation Sans">y [/]</text>
<text transform="translate(93.19 180.8) scale(0.9100 1)" font-size="23.8" font-family="Liberation Sans">0</text>
<g transform="translate(208.79 180.8) scale(0.9100 1)"><text font-size="23.8" font-family="Liberation Sans"> 00</text><path transform="translate(0 0) scale(0.01162 -0.01162)" stroke="#000" stroke-width="25.82" d="M515 0V1237L197 1010V1180L530 1409H696V0Z"/></g>
<text transform="translate(336.96 180.8) scale(0.9100 1)" font-size="23.8" font-family="Liberation Sans">200</text>
<text transform="translate(466.47 180.8) scale(0.9100 1)" font-size="23.8" font-family="Liberation Sans">300</text>
<text transform="translate(595.83 180.8) scale(0.9100 1)" font-size="23.8" font-family="Liberation Sans">400</text>
<text transform="translate(725.57 180.8) scale(0.9100 1)" font-size="23.8" font-family="Liberation Sans">500</text>
<text transform="translate(854.26 180.8) scale(0.9100 1)" font-size="23.8" font-family="Liberation Sans">600</text>
<text transform="translate(984.56 180.8) scale(0.9100 1)" font-size="23.8" font-family="Liberation Sans">700</text>
<text transform="translate(908.84 177.6) scale(0.9700 1)" font-size="21.5" font-family="Liberation Sans">k</text>
<line x1="104.7" y1="323.18" x2="993.4" y2="323.18" stroke="#5a5a5a" stroke-width="2.3" stroke-dasharray="2.5 2.82" stroke-dashoffset="3.51"/>
<line x1="96.7" y1="323.18" x2="104.7" y2="323.18" stroke="#5a5a5a" stroke-width="2"/>
<line x1="993.4" y1="323.18" x2="1001.4" y2="323.18" stroke="#5a5a5a" stroke-width="2"/>
<line x1="104.7" y1="310.36" x2="993.4" y2="310.36" stroke="#adadad" stroke-width="2.3" stroke-dasharray="2.5 2.82" stroke-dashoffset="3.51"/>
<line x1="96.7" y1="310.36" x2="104.7" y2="310.36" stroke="#adadad" stroke-width="2"/>
<line x1="993.4" y1="310.36" x2="1001.4" y2="310.36" stroke="#adadad" stroke-width="2"/>
<line x1="104.7" y1="297.54" x2="993.4" y2="297.54" stroke="#adadad" stroke-width="2.3" stroke-dasharray="2.5 2.82" stroke-dashoffset="3.51"/>
<line x1="96.7" y1="297.54" x2="104.7" y2="297.54" stroke="#adadad" stroke-width="2"/>
<line x1="993.4" y1="297.54" x2="1001.4" y2="297.54" stroke="#adadad" stroke-width="2"/>
<line x1="104.7" y1="284.72" x2="993.4" y2="284.72" stroke="#5a5a5a" stroke-width="2.3" stroke-dasharray="2.5 2.82" stroke-dashoffset="3.51"/>
<line x1="96.7" y1="284.72" x2="104.7" y2="284.72" stroke="#5a5a5a" stroke-width="2"/>
<line x1="993.4" y1="284.72" x2="1001.4" y2="284.72" stroke="#5a5a5a" stroke-width="2"/>
<line x1="104.7" y1="271.9" x2="993.4" y2="271.9" stroke="#5a5a5a" stroke-width="2.3" stroke-dasharray="2.5 2.82" stroke-dashoffset="3.51"/>
<line x1="96.7" y1="271.9" x2="104.7" y2="271.9" stroke="#5a5a5a" stroke-width="2"/>
<line x1="993.4" y1="271.9" x2="1001.4" y2="271.9" stroke="#5a5a5a" stroke-width="2"/>
<line x1="104.7" y1="259.08" x2="993.4" y2="259.08" stroke="#adadad" stroke-width="2.3" stroke-dasharray="2.5 2.82" stroke-dashoffset="3.51"/>
<line x1="96.7" y1="259.08" x2="104.7" y2="259.08" stroke="#adadad" stroke-width="2"/>
<line x1="993.4" y1="259.08" x2="1001.4" y2="259.08" stroke="#adadad" stroke-width="2"/>
<line x1="104.7" y1="246.26" x2="993.4" y2="246.26" stroke="#adadad" stroke-width="2.3" stroke-dasharray="2.5 2.82" stroke-dashoffset="3.51"/>
<line x1="96.7" y1="246.26" x2="104.7" y2="246.26" stroke="#adadad" stroke-width="2"/>
<line x1="993.4" y1="246.26" x2="1001.4" y2="246.26" stroke="#adadad" stroke-width="2"/>
<line x1="104.7" y1="233.44" x2="993.4" y2="233.44" stroke="#5a5a5a" stroke-width="2.3" stroke-dasharray="2.5 2.82" stroke-dashoffset="3.51"/>
<line x1="96.7" y1="233.44" x2="104.7" y2="233.44" stroke="#5a5a5a" stroke-width="2"/>
<line x1="993.4" y1="233.44" x2="1001.4" y2="233.44" stroke="#5a5a5a" stroke-width="2"/>
<line x1="226.48" y1="228" x2="226.48" y2="328" stroke="#5a5a5a" stroke-width="1.8" stroke-dasharray="2.5 2.82" stroke-dashoffset="0"/>
<line x1="226.48" y1="220" x2="226.48" y2="228" stroke="#5a5a5a" stroke-width="1.8"/>
<line x1="226.48" y1="328" x2="226.48" y2="336" stroke="#5a5a5a" stroke-width="1.8"/>
<line x1="355.56" y1="228" x2="355.56" y2="328" stroke="#5a5a5a" stroke-width="1.8" stroke-dasharray="2.5 2.82" stroke-dashoffset="0"/>
<line x1="355.56" y1="220" x2="355.56" y2="228" stroke="#5a5a5a" stroke-width="1.8"/>
<line x1="355.56" y1="328" x2="355.56" y2="336" stroke="#5a5a5a" stroke-width="1.8"/>
<line x1="484.64" y1="228" x2="484.64" y2="328" stroke="#5a5a5a" stroke-width="1.8" stroke-dasharray="2.5 2.82" stroke-dashoffset="0"/>
<line x1="484.64" y1="220" x2="484.64" y2="228" stroke="#5a5a5a" stroke-width="1.8"/>
<line x1="484.64" y1="328" x2="484.64" y2="336" stroke="#5a5a5a" stroke-width="1.8"/>
<line x1="613.72" y1="228" x2="613.72" y2="328" stroke="#5a5a5a" stroke-width="1.8" stroke-dasharray="2.5 2.82" stroke-dashoffset="0"/>
<line x1="613.72" y1="220" x2="613.72" y2="228" stroke="#5a5a5a" stroke-width="1.8"/>
<line x1="613.72" y1="328" x2="613.72" y2="336" stroke="#5a5a5a" stroke-width="1.8"/>
<line x1="742.8" y1="228" x2="742.8" y2="328" stroke="#5a5a5a" stroke-width="1.8" stroke-dasharray="2.5 2.82" stroke-dashoffset="0"/>
<line x1="742.8" y1="220" x2="742.8" y2="228" stroke="#5a5a5a" stroke-width="1.8"/>
<line x1="742.8" y1="328" x2="742.8" y2="336" stroke="#5a5a5a" stroke-width="1.8"/>
<line x1="871.88" y1="228" x2="871.88" y2="328" stroke="#5a5a5a" stroke-width="1.8" stroke-dasharray="2.5 2.82" stroke-dashoffset="0"/>
<line x1="871.88" y1="220" x2="871.88" y2="228" stroke="#5a5a5a" stroke-width="1.8"/>
<line x1="871.88" y1="328" x2="871.88" y2="336" stroke="#5a5a5a" stroke-width="1.8"/>
<clipPath id="fc1"><rect x="403" y="0" width="17" height="306"/></clipPath>
<path d="M405.4 336.3 L405.4 315.2 L407.5 310 L409.6 290.3 L410.2 267.4 L411.4 236.3 L412.5 267.4 L414.6 271.6 L415.4 306.9 L416.9 317.3 L416.9 336.3Z" fill="#0000ff" clip-path="url(#fc1)"/>
<clipPath id="fc2"><rect x="430" y="0" width="11.2" height="320"/></clipPath>
<path d="M432.2 336.3 L432.2 321.2 L433.3 307.8 L434.5 306.7 L436.1 307.8 L437.2 306.7 L438.4 318.9 L439.1 332.3 L439.1 336.3Z" fill="#0000ff" clip-path="url(#fc2)"/>
<clipPath id="fc3"><rect x="597" y="0" width="11" height="316"/></clipPath>
<path d="M599.2 336.3 L599.2 316.8 L600.1 301.8 L601.7 300.1 L603.1 293.4 L604.2 281.7 L605.4 293.4 L605.9 320.1 L605.9 336.3Z" fill="#0000ff" clip-path="url(#fc3)"/>
<clipPath id="fc4"><rect x="706" y="0" width="12" height="300"/></clipPath>
<path d="M708.6 336.3 L708.6 312.6 L710.3 273.5 L711.4 239 L712.6 221 L713.6 229.8 L714.4 262 L715.5 303.4 L715.5 336.3Z" fill="#0000ff" clip-path="url(#fc4)"/>
<clipPath id="fc5"><rect x="715.5" y="0" width="7.5" height="300"/></clipPath>
<path d="M718.1 336.3 L718.1 278.1 L719.6 279.2 L720.1 303.4 L720.1 336.3Z" fill="#0000ff" clip-path="url(#fc5)"/>
<clipPath id="fc6"><rect x="740.5" y="0" width="9" height="322"/></clipPath>
<path d="M743.1 336.3 L743.1 266.6 L744 245.5 L745.2 248.5 L746.1 285 L747 319.4 L747 336.3Z" fill="#0000ff" clip-path="url(#fc6)"/>
<clipPath id="fc7"><rect x="824" y="0" width="12" height="297"/></clipPath>
<path d="M826.9 336.3 L826.9 300.1 L827.4 280 L828 270 L830.2 273.4 L831.9 280 L832.7 293.4 L833.2 313.4 L834 328.5 L834 336.3Z" fill="#0000ff" clip-path="url(#fc7)"/>
<clipPath id="fc8"><rect x="559" y="0" width="10.5" height="324"/></clipPath>
<path d="M561.2 336.3 L561.2 329 L562.5 321.8 L564 320 L565.7 314.1 L567.4 322.9 L567.4 336.3Z" fill="#0000ff" clip-path="url(#fc8)"/>
<clipPath id="fc9"><rect x="348" y="0" width="8.5" height="314"/></clipPath>
<path d="M350.5 336.3 L350.5 316.7 L352.2 310.6 L353.8 311.7 L353.8 336.3Z" fill="#0000ff" clip-path="url(#fc9)"/>
<clipPath id="fc10"><rect x="354" y="0" width="8.2" height="314"/></clipPath>
<path d="M356.6 336.3 L356.6 312.3 L358.3 310.6 L360 317.8 L360 336.3Z" fill="#0000ff" clip-path="url(#fc10)"/>
<path d="M197.2 336.3 L200.6 326.8 L201.1 309 L202.8 303.4 L205.6 305 L207.6 309 L208.9 321.2 L210.6 329 L212.3 330.7 L214.5 331.8 L216.7 332.3 L221.2 332.3 L224.5 331.2 L226.7 326.8 L227.9 304.5 L230.1 301.2 L231.8 298.7 L233.4 299.5 L234.5 307.8 L235.7 324.5 L237.3 332.3 L239.6 333.4 L241.2 329 L244 324.5 L246.8 327.9 L249 336.3 M250 336.3 M257.5 336.3 M258.5 336.3 L259.6 331.8 L261.8 331.2 L263.5 324.5 L264.6 323.4 L266.3 324.5 L267.4 331.2 L268 336.3 M269 336.3 M313.4 336.3 M314.4 336.3 L318.8 328.7 L321 336.3 M322 336.3 M323.9 336.3 M324.9 336.3 L327.7 323.4 L330.5 320.9 L333.3 329 L334.4 336.3 M335.4 336.3 M344 336.3 L345 334.5 L348.3 332.3 L350.5 316.7 L352.2 310.6 L353.8 311.7 L355.5 320 L356.6 312.3 L358.3 310.6 L360 317.8 L360.5 332.3 L362.7 332.8 L365 333.4 L365.5 336.3 M366.5 336.3 M381.2 336.3 M382.2 336.3 L384.3 323.5 L386.8 319.3 L388.8 325.6 L390.5 333.9 L391.5 336.3 M393 336.3 L394 334.3 L395 336.3 M401.3 336.3 M402.3 336.3 L405.4 315.2 L407.5 310 L409.6 290.3 L410.2 267.4 L411.4 236.3 L412.5 267.4 L414.6 271.6 L415.4 306.9 L416.9 317.3 L418.9 332.8 L421.6 333.9 L424 336.3 M425 336.3 M429 336.3 M430 336.3 L431.1 329 L432.2 321.2 L433.3 307.8 L434.5 306.7 L436.1 307.8 L437.2 306.7 L438.4 318.9 L439.1 332.3 L442.2 334 L443.9 336.3 M444.9 336.3 M447.4 336.3 L448.4 334.5 L452.3 331.7 L454.5 336.3 M455.5 336.3 M467.9 336.3 L468.9 334.5 L471.2 332.8 L472.8 336.3 M473.8 336.3 M490.7 336.3 L491.7 334.5 L495.6 329 L498.9 334.5 L499.9 336.3 M505.1 336.3 L506.1 334.5 L508.9 331.2 L510 325.6 L512.2 323.4 L513.9 320 L516.1 321.7 L517.3 329 L518.9 334.5 L519.9 336.3 M558 336.3 L559 334.5 L561.2 329 L562.5 321.8 L564 320 L565.7 314.1 L567.4 322.9 L568.3 328.5 L570.9 330.1 L572.5 333.5 L573.5 336.3 M576.5 336.3 L577.5 333.5 L580 323.5 L581.7 317.6 L584.2 325.1 L586.7 333.5 L587.7 336.3 M597.1 336.3 L598.1 333.5 L599.2 316.8 L600.1 301.8 L601.7 300.1 L603.1 293.4 L604.2 281.7 L605.4 293.4 L605.9 320.1 L607.6 330.1 L610.9 332.6 L613 336.3 M614 336.3 M620.8 336.3 L621.8 333.5 L624.3 326.8 L625.9 309.3 L627.1 310.1 L628.1 321.8 L630.1 326.8 L631.5 333.5 L633 336.3 M634 336.3 M645.1 336.3 L646.1 334.5 L647.8 325.6 L649.5 321.2 L651.7 317.3 L653.4 320 L654.5 329 L656.1 334 L658.9 334.5 L662.8 332.3 L664.5 334.5 L665.5 336.3 M684.6 336.3 L685.6 334.5 L687.8 331.7 L690.1 323.4 L691.7 329 L693.4 334.5 L694.4 336.3 M705.3 336.3 M706.3 336.3 L708.6 312.6 L710.3 273.5 L711.4 239 L712.6 221 L713.6 229.8 L714.4 262 L715.5 303.4 L716.7 312.6 L718.1 278.1 L719.6 279.2 L720.1 303.4 L721.3 324 L723.1 336.3 M724.1 336.3 M732.9 336.3 M733.9 336.3 L737.4 326.3 L740.8 332.1 L742 328.6 L743.1 266.6 L744 245.5 L745.2 248.5 L746.1 285 L747 319.4 L748.4 328.6 L751.2 326.3 L753.5 334.4 L754.5 336.3 M821.3 336.3 L822.3 333.5 L825.2 320.1 L826.9 300.1 L827.4 280 L828 270 L830.2 273.4 L831.9 280 L832.7 293.4 L833.2 313.4 L834 328.5 L835.2 330.1 L836.9 332.6 L847.7 333.5 L849.4 315.1 L851.1 314.3 L853.1 316.8 L854.4 326.8 L856.1 333.5 L857.1 336.3 M865.9 336.3 L866.9 333.5 L868.6 332.6 L871.1 334.3 L872.1 336.3 M885.1 336.3 L886.1 334.3 L887.8 333.5 L889.5 336.3 M890.5 336.3 M896.1 336.3 M897.1 336.3 L898.8 334 L900.5 336.3 M901.5 336.3 M907.8 336.3 M908.8 336.3 L910.5 331.7 L912.7 331.2 L914.9 332.8 L915.8 336.3 M916.8 336.3 M924.5 336.3 M925.5 336.3 L927.2 329 L928.3 324.5 L928.8 315.6 L929.6 310.6 L930.5 316.7 L931 324.5 L932.2 326.7 L933.3 327.3 L934.4 332.3 L935 336.3 M936 336.3 M949.5 336.3 M950.5 336.3 L951.6 329 L952.8 327.3 L954.1 329 L955.5 328.4 L957.2 334.5 L958.2 336.3 M966.8 336.3 L967.8 334.6 L969.5 329 L971.2 325.7 L972.8 329 L975.1 334.6 L976.1 336.3 M979.6 336.3 L980.6 334.6 L982.3 331.8 L984.5 331.2 L986.2 322.3 L987.9 311.2 L989.5 319 L990.6 327.9 L992.3 334.6 L994.5 332.3 L996.8 326.8 L999 324 L1000.7 324.5" fill="none" stroke="#0000ff" stroke-width="2.5" stroke-linejoin="round"/>
<rect x="96.7" y="220" width="904.7" height="116" fill="none" stroke="#000" stroke-width="1.7"/>
<line x1="95.7" y1="336.3" x2="1002.4" y2="336.3" stroke="#111" stroke-width="2.2"/>
<text transform="translate(150.04 209.4) scale(1.0532 1)" font-size="25.6" font-family="Liberation Sans">EA3 (Approximate Learning Sample Entropy of Order 3)</text>
<text transform="translate(55.76 238.7) scale(0.9100 1)" font-size="23.8" font-family="Liberation Sans">0.8</text>
<text transform="translate(55.87 264.2) scale(0.9100 1)" font-size="23.8" font-family="Liberation Sans">0.6</text>
<text transform="translate(55.55 289.3) scale(0.9100 1)" font-size="23.8" font-family="Liberation Sans">0.4</text>
<text transform="translate(55.98 314.5) scale(0.9100 1)" font-size="23.8" font-family="Liberation Sans">0.2</text>
<text transform="translate(55.76 339.7) scale(0.9100 1)" font-size="23.8" font-family="Liberation Sans">0.0</text>
<text transform="translate(39 317.5) rotate(-90) scale(1.0000 1)" font-size="22.5" font-family="Liberation Sans">EA3 [/]</text>
<text transform="translate(90.89 356.8) scale(0.9100 1)" font-size="23.8" font-family="Liberation Sans">0</text>
<g transform="translate(205.99 356.8) scale(0.9100 1)"><text font-size="23.8" font-family="Liberation Sans"> 00</text><path transform="translate(0 0) scale(0.01162 -0.01162)" stroke="#000" stroke-width="25.82" d="M515 0V1237L197 1010V1180L530 1409H696V0Z"/></g>
<text transform="translate(334.16 356.8) scale(0.9100 1)" font-size="23.8" font-family="Liberation Sans">200</text>
<text transform="translate(462.97 356.8) scale(0.9100 1)" font-size="23.8" font-family="Liberation Sans">300</text>
<text transform="translate(592.13 356.8) scale(0.9100 1)" font-size="23.8" font-family="Liberation Sans">400</text>
<text transform="translate(722.07 356.8) scale(0.9100 1)" font-size="23.8" font-family="Liberation Sans">500</text>
<text transform="translate(850.56 356.8) scale(0.9100 1)" font-size="23.8" font-family="Liberation Sans">600</text>
<text transform="translate(980.56 356.8) scale(0.9100 1)" font-size="23.8" font-family="Liberation Sans">700</text>
<text transform="translate(904.54 356) scale(0.9700 1)" font-size="21.5" font-family="Liberation Sans">k</text>
<line x1="104.7" y1="492.82" x2="993.4" y2="492.82" stroke="#adadad" stroke-width="2.3" stroke-dasharray="2.5 2.82" stroke-dashoffset="3.51"/>
<line x1="96.7" y1="492.82" x2="104.7" y2="492.82" stroke="#adadad" stroke-width="2"/>
<line x1="993.4" y1="492.82" x2="1001.4" y2="492.82" stroke="#adadad" stroke-width="2"/>
<line x1="104.7" y1="476.34" x2="993.4" y2="476.34" stroke="#5a5a5a" stroke-width="2.3" stroke-dasharray="2.5 2.82" stroke-dashoffset="3.51"/>
<line x1="96.7" y1="476.34" x2="104.7" y2="476.34" stroke="#5a5a5a" stroke-width="2"/>
<line x1="993.4" y1="476.34" x2="1001.4" y2="476.34" stroke="#5a5a5a" stroke-width="2"/>
<line x1="104.7" y1="459.86" x2="993.4" y2="459.86" stroke="#adadad" stroke-width="2.3" stroke-dasharray="2.5 2.82" stroke-dashoffset="3.51"/>
<line x1="96.7" y1="459.86" x2="104.7" y2="459.86" stroke="#adadad" stroke-width="2"/>
<line x1="993.4" y1="459.86" x2="1001.4" y2="459.86" stroke="#adadad" stroke-width="2"/>
<line x1="104.7" y1="443.38" x2="993.4" y2="443.38" stroke="#5a5a5a" stroke-width="2.3" stroke-dasharray="2.5 2.82" stroke-dashoffset="3.51"/>
<line x1="96.7" y1="443.38" x2="104.7" y2="443.38" stroke="#5a5a5a" stroke-width="2"/>
<line x1="993.4" y1="443.38" x2="1001.4" y2="443.38" stroke="#5a5a5a" stroke-width="2"/>
<line x1="104.7" y1="426.9" x2="993.4" y2="426.9" stroke="#5a5a5a" stroke-width="2.3" stroke-dasharray="2.5 2.82" stroke-dashoffset="3.51"/>
<line x1="96.7" y1="426.9" x2="104.7" y2="426.9" stroke="#5a5a5a" stroke-width="2"/>
<line x1="993.4" y1="426.9" x2="1001.4" y2="426.9" stroke="#5a5a5a" stroke-width="2"/>
<line x1="104.7" y1="410.42" x2="993.4" y2="410.42" stroke="#5a5a5a" stroke-width="2.3" stroke-dasharray="2.5 2.82" stroke-dashoffset="3.51"/>
<line x1="96.7" y1="410.42" x2="104.7" y2="410.42" stroke="#5a5a5a" stroke-width="2"/>
<line x1="993.4" y1="410.42" x2="1001.4" y2="410.42" stroke="#5a5a5a" stroke-width="2"/>
<line x1="226.48" y1="402.5" x2="226.48" y2="502.1" stroke="#5a5a5a" stroke-width="1.8" stroke-dasharray="2.5 2.82" stroke-dashoffset="0"/>
<line x1="226.48" y1="394.5" x2="226.48" y2="402.5" stroke="#5a5a5a" stroke-width="1.8"/>
<line x1="226.48" y1="502.1" x2="226.48" y2="510.1" stroke="#5a5a5a" stroke-width="1.8"/>
<line x1="355.56" y1="402.5" x2="355.56" y2="502.1" stroke="#5a5a5a" stroke-width="1.8" stroke-dasharray="2.5 2.82" stroke-dashoffset="0"/>
<line x1="355.56" y1="394.5" x2="355.56" y2="402.5" stroke="#5a5a5a" stroke-width="1.8"/>
<line x1="355.56" y1="502.1" x2="355.56" y2="510.1" stroke="#5a5a5a" stroke-width="1.8"/>
<line x1="484.64" y1="402.5" x2="484.64" y2="502.1" stroke="#5a5a5a" stroke-width="1.8" stroke-dasharray="2.5 2.82" stroke-dashoffset="0"/>
<line x1="484.64" y1="394.5" x2="484.64" y2="402.5" stroke="#5a5a5a" stroke-width="1.8"/>
<line x1="484.64" y1="502.1" x2="484.64" y2="510.1" stroke="#5a5a5a" stroke-width="1.8"/>
<line x1="613.72" y1="402.5" x2="613.72" y2="502.1" stroke="#5a5a5a" stroke-width="1.8" stroke-dasharray="2.5 2.82" stroke-dashoffset="0"/>
<line x1="613.72" y1="394.5" x2="613.72" y2="402.5" stroke="#5a5a5a" stroke-width="1.8"/>
<line x1="613.72" y1="502.1" x2="613.72" y2="510.1" stroke="#5a5a5a" stroke-width="1.8"/>
<line x1="742.8" y1="402.5" x2="742.8" y2="502.1" stroke="#5a5a5a" stroke-width="1.8" stroke-dasharray="2.5 2.82" stroke-dashoffset="0"/>
<line x1="742.8" y1="394.5" x2="742.8" y2="402.5" stroke="#5a5a5a" stroke-width="1.8"/>
<line x1="742.8" y1="502.1" x2="742.8" y2="510.1" stroke="#5a5a5a" stroke-width="1.8"/>
<line x1="871.88" y1="402.5" x2="871.88" y2="502.1" stroke="#5a5a5a" stroke-width="1.8" stroke-dasharray="2.5 2.82" stroke-dashoffset="0"/>
<line x1="871.88" y1="394.5" x2="871.88" y2="402.5" stroke="#5a5a5a" stroke-width="1.8"/>
<line x1="871.88" y1="502.1" x2="871.88" y2="510.1" stroke="#5a5a5a" stroke-width="1.8"/>
<rect x="96.7" y="394.5" width="904.7" height="115.6" fill="none" stroke="#000" stroke-width="1.7"/>
<clipPath id="fc11"><rect x="707.6" y="0" width="10.2" height="470"/></clipPath>
<path d="M710.4 508.5 L710.4 485.1 L711.3 448 L712.2 413.2 L713.4 403.8 L714.6 413.2 L715 448 L715 508.5Z" fill="#0000ff" clip-path="url(#fc11)"/>
<clipPath id="fc12"><rect x="715.5" y="0" width="7.7" height="490"/></clipPath>
<path d="M718 508.5 L718 470 L719.9 471.2 L721 487.4 L721 508.5Z" fill="#0000ff" clip-path="url(#fc12)"/>
<clipPath id="fc13"><rect x="740.6" y="0" width="9.2" height="495"/></clipPath>
<path d="M743.1 508.5 L743.1 468.8 L744 436.4 L744.6 426.1 L746.6 436.4 L747.2 468.8 L747.2 508.5Z" fill="#0000ff" clip-path="url(#fc13)"/>
<clipPath id="fc14"><rect x="825" y="0" width="9" height="500"/></clipPath>
<path d="M827.1 508.5 L827.1 499.8 L829.2 495.6 L830.6 483.1 L831.7 488.7 L831.7 508.5Z" fill="#0000ff" clip-path="url(#fc14)"/>
<line x1="97.5" y1="508.5" x2="1000.6" y2="508.5" stroke="#0000ff" stroke-width="2.1"/>
<path d="M97.5 508.5 L201.5 508.5 L202.5 507.3 L209 507.3 L210 508.5 L227.5 508.5 L232.3 503.2 L237 508.5 L243.5 508.5 L245.2 507 L247 508.5 L329.5 508.5 L331.2 507.5 L333 508.5 L409.5 508.5 L412.3 505 L415 508.5 L434 508.5 L436.7 504.8 L439.5 508.5 L511.5 508.5 L512.6 507 L516.5 507 L517.5 508.5 L564.5 508.5 L566.4 507 L568.3 508.5 L581 508.5 L583 507 L585 508.5 L601.3 508.5 L601.8 501.5 L603.2 500.8 L604.6 503.5 L607.6 508.5 L649.5 508.5 L651 507.2 L652.5 508.5 L709.4 508.5 L710.4 485.1 L711.3 448 L712.2 413.2 L713.4 403.8 L714.6 413.2 L715 448 L715.9 482.8 L716.9 489.7 L718 470 L719.9 471.2 L721 487.4 L722 508.5 L736.6 508.5 L738.9 505.5 L741.2 508.5 L742.4 508.5 L743.1 468.8 L744 436.4 L744.6 426.1 L746.6 436.4 L747.2 468.8 L748.9 503.6 L751.7 503.6 L754 508.5 L825 508.5 L827.1 499.8 L829.2 495.6 L830.6 483.1 L831.7 488.7 L832.3 501.2 L834.1 504 L835.9 508.5 L848.7 508.5 L852.2 503.3 L854.2 508.5 L926.9 508.5 L927.5 507.4 L933 507.4 L933.6 508.5 L971 508.5 L972.2 507.2 L973.4 508.5 L985.5 508.5 L988.1 503.1 L990.6 508.5 L995 508.5 L998.3 505.8 L1000.6 505" fill="none" stroke="#0000ff" stroke-width="2.1" stroke-linejoin="round"/>
<text transform="translate(150.04 383.7) scale(1.0532 1)" font-size="25.6" font-family="Liberation Sans">EA4 (Approximate Learning Sample Entropy of Order 4)</text>
<text transform="translate(55.47 415.2) scale(0.9100 1)" font-size="23.8" font-family="Liberation Sans">0.6</text>
<text transform="translate(55.15 446.9) scale(0.9100 1)" font-size="23.8" font-family="Liberation Sans">0.4</text>
<text transform="translate(55.58 478.7) scale(0.9100 1)" font-size="23.8" font-family="Liberation Sans">0.2</text>
<text transform="translate(55.36 510.5) scale(0.9100 1)" font-size="23.8" font-family="Liberation Sans">0.0</text>
<text transform="translate(39 490.9) rotate(-90) scale(1.0000 1)" font-size="22.5" font-family="Liberation Sans">EA4 [/]</text>
<text transform="translate(90.89 531.6) scale(0.9100 1)" font-size="23.8" font-family="Liberation Sans">0</text>
<g transform="translate(205.99 531.6) scale(0.9100 1)"><text font-size="23.8" font-family="Liberation Sans"> 00</text><path transform="translate(0 0) scale(0.01162 -0.01162)" stroke="#000" stroke-width="25.82" d="M515 0V1237L197 1010V1180L530 1409H696V0Z"/></g>
<text transform="translate(334.16 531.6) scale(0.9100 1)" font-size="23.8" font-family="Liberation Sans">200</text>
<text transform="translate(462.97 531.6) scale(0.9100 1)" font-size="23.8" font-family="Liberation Sans">300</text>
<text transform="translate(592.13 531.6) scale(0.9100 1)" font-size="23.8" font-family="Liberation Sans">400</text>
<text transform="translate(722.07 531.6) scale(0.9100 1)" font-size="23.8" font-family="Liberation Sans">500</text>
<text transform="translate(850.56 531.6) scale(0.9100 1)" font-size="23.8" font-family="Liberation Sans">600</text>
<text transform="translate(980.56 531.6) scale(0.9100 1)" font-size="23.8" font-family="Liberation Sans">700</text>
<text transform="translate(904.54 528.3) scale(0.9700 1)" font-size="21.5" font-family="Liberation Sans">k</text>
</svg>
</body></html>
